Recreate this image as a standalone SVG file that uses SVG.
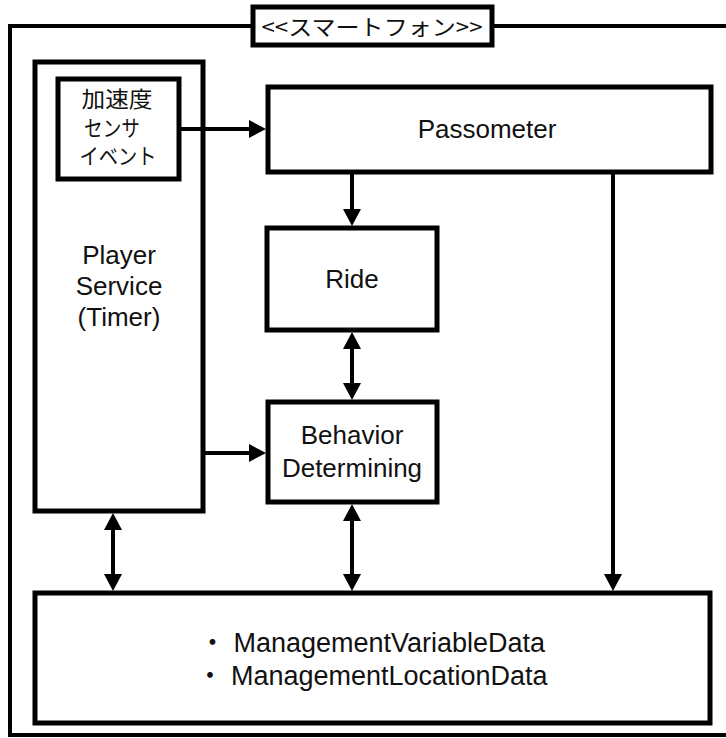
<svg xmlns="http://www.w3.org/2000/svg" width="726" height="738" viewBox="0 0 726 738">
  <style>
    .box { fill: #ffffff; stroke: #000000; stroke-width: 5; }
    .frame { fill: none; stroke: #000000; stroke-width: 4; }
    .lbl { font-family: "Liberation Sans", Arial, sans-serif; font-size: 26px; fill: #111111; text-anchor: middle; }
    .data { font-family: "Liberation Sans", "Noto Sans CJK JP", Arial, sans-serif; font-size: 27px; fill: #111111; text-anchor: middle; }
    .jp { font-family: "Noto Sans CJK JP", "Noto Sans CJK SC", sans-serif; font-size: 22px; fill: #111111; text-anchor: middle; }
    .conn { fill: none; stroke: #000000; stroke-width: 4; }
  </style>
  <defs>
    <marker id="arrow" viewBox="0 0 17 18" markerWidth="17" markerHeight="18" markerUnits="userSpaceOnUse" refX="12" refY="9" orient="auto-start-reverse">
      <path d="M0,0 L17,9 L0,18 z" fill="#000000"/>
    </marker>
  </defs>

  <!-- outer container with its stereotype tab -->
  <g id="container">
    <rect class="frame" x="10" y="26" width="760" height="709"/>
    <rect class="box" x="253" y="7" width="239" height="38"/>
    <text class="jp" x="372" y="35" font-size="23" textLength="221" lengthAdjust="spacingAndGlyphs">&lt;&lt;スマートフォン&gt;&gt;</text>
  </g>

  <g id="player-service">
    <rect class="box" x="35" y="62" width="168" height="449"/>
    <text class="lbl" x="119" y="264">Player</text>
    <text class="lbl" x="119" y="295">Service</text>
    <text class="lbl" x="119" y="326">(Timer)</text>
  </g>

  <g id="sensor-event">
    <rect class="box" x="58" y="79" width="121" height="100"/>
    <text class="jp" x="117" y="107" textLength="71" lengthAdjust="spacingAndGlyphs">加速度</text>
    <text class="jp" x="112" y="136" textLength="56" lengthAdjust="spacingAndGlyphs">センサ</text>
    <text class="jp" x="118" y="164" textLength="77" lengthAdjust="spacingAndGlyphs">イベント</text>
  </g>

  <g id="passometer">
    <rect class="box" x="268" y="87" width="443" height="85"/>
    <text class="lbl" x="487" y="138">Passometer</text>
  </g>

  <g id="ride">
    <rect class="box" x="267" y="228" width="170" height="102"/>
    <text class="lbl" x="352" y="288">Ride</text>
  </g>

  <g id="behavior-determining">
    <rect class="box" x="268" y="402" width="169" height="100"/>
    <text class="lbl" x="352" y="444">Behavior</text>
    <text class="lbl" x="352" y="477">Determining</text>
  </g>

  <g id="management-data">
    <rect class="box" x="35" y="593" width="675" height="130"/>
    <text class="data" x="372" y="652">・ ManagementVariableData</text>
    <text class="data" x="372" y="685">・ ManagementLocationData</text>
  </g>

  <g id="connectors">
    <line class="conn" x1="181" y1="129" x2="261" y2="129" marker-end="url(#arrow)"/>
    <line class="conn" x1="352" y1="174" x2="352" y2="221" marker-end="url(#arrow)"/>
    <line class="conn" x1="352" y1="337" x2="352" y2="395" marker-start="url(#arrow)" marker-end="url(#arrow)"/>
    <line class="conn" x1="205" y1="453" x2="261" y2="453" marker-end="url(#arrow)"/>
    <line class="conn" x1="113" y1="518" x2="113" y2="586" marker-start="url(#arrow)" marker-end="url(#arrow)"/>
    <line class="conn" x1="352" y1="509" x2="352" y2="586" marker-start="url(#arrow)" marker-end="url(#arrow)"/>
    <line class="conn" x1="613" y1="174" x2="613" y2="586" marker-end="url(#arrow)"/>
  </g>
</svg>
